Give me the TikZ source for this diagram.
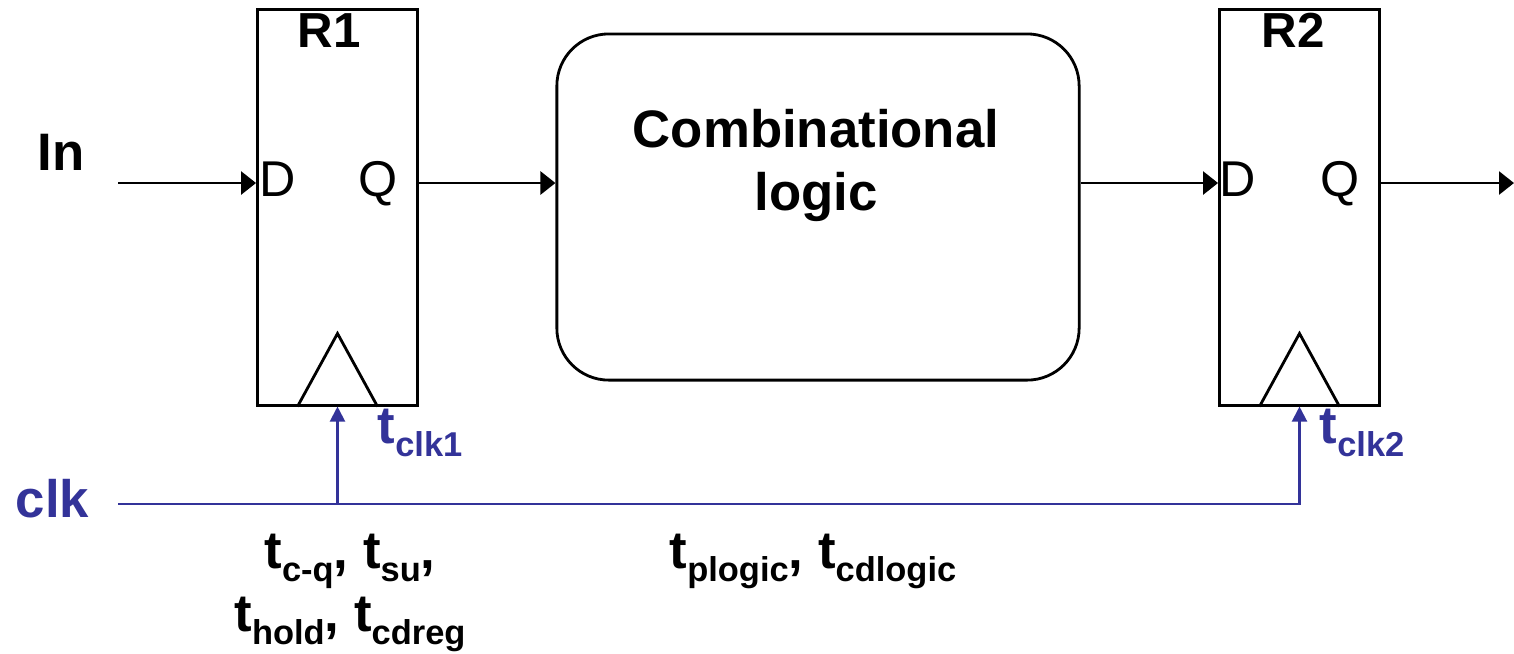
\documentclass[tikz,border=0pt]{standalone}
\usepackage{fontspec}
\setmainfont{Liberation Sans}
\usepackage{xcolor}
\usepackage{tikz}
\usetikzlibrary{arrows.meta, positioning, calc}
\definecolor{clkblue}{RGB}{51,51,153}
% delay symbol: t with a lowered small index
\newcommand{\tdelay}[1]{t\raisebox{-3.7pt}{\fontsize{9.8}{11}\selectfont #1}}
\tikzset{
  reg/.style={rectangle, draw=black, line width=0.8pt,
    minimum width=1.6cm, minimum height=3.95cm, inner sep=0pt},
  combbox/.style={rectangle, draw=black, line width=0.8pt,
    rounded corners=0.52cm, minimum width=5.22cm, minimum height=3.46cm},
  pin/.style={inner sep=0pt, anchor=base, font=\fontsize{14.3}{17}\selectfont},
  regname/.style={inner sep=0pt, anchor=base, font=\fontsize{14}{17}\selectfont\bfseries},
  biglabel/.style={inner sep=0pt, anchor=base, font=\fontsize{15}{18}\selectfont\bfseries},
  clklabel/.style={biglabel, text=clkblue},
  arrow/.style={-{Triangle[length=0.15cm, width=0.23cm]}, line width=0.8pt},
  clkarrow/.style={-{Triangle[length=0.15cm, width=0.15cm]}, line width=0.6pt, draw=clkblue},
  line/.style={line width=0.8pt}
}

\begin{document}
\begin{tikzpicture}[x=0.01cm, y=-0.01cm]
  \useasboundingbox (0,0) rectangle (1514,653);

  % Registers and logic block
  \node[reg] (r1) at (337.5, 207.5) {};
  \node[reg] (r2) at (1299.5, 207.5) {};
  \node[combbox] (comb) at (818, 207) {};

  % Register names and pins
  \node[regname] (r1name) at (329, 47) {R1};
  \node[regname] (r2name) at (1293, 47) {R2};
  \node[pin] (d1) at (277.5, 196) {D};
  \node[pin] (q1) at (378, 196) {Q};
  \node[pin] (d2) at (1237.5, 196) {D};
  \node[pin] (q2) at (1340, 196) {Q};

  \node[biglabel] (combtop) at (816, 147) {Combinational};
  \node[biglabel] (combbot) at (816, 210) {logic};

  % Inputs
  \node[biglabel, anchor=base west] (inlbl) at (37, 170) {In};
  \node[clklabel, anchor=base west] (clklbl) at (15, 517) {clk};

  % Data path
  \coordinate (din) at (118, 183);
  \coordinate (dout) at (1514, 183);
  \draw[arrow] (din) -- (din -| r1.west);
  \draw[arrow] (r1.east |- din) -- (din -| comb.west);
  \draw[arrow] (comb.east |- din) -- (din -| r2.west);
  \draw[arrow] (r2.east |- din) -- (dout);

  % Clock inputs
  \foreach \r in {r1, r2}
    \draw[line] ([xshift=-0.4cm]\r.south) -- ([yshift=0.73cm]\r.south) -- ([xshift=0.4cm]\r.south);

  \coordinate (clkin) at (118, 504);
  \draw[clkarrow] (clkin) -| (r2.south);
  \draw[clkarrow] (clkin -| r1.south) -- (r1.south);

  \node[clklabel, anchor=base west] (tclk1) at (377, 443) {\tdelay{clk1}};
  \node[clklabel, anchor=base west] (tclk2) at (1319, 443) {\tdelay{clk2}};

  % Timing parameters
  \node[biglabel] (regt1) at (350, 568) {\tdelay{c-q}, \tdelay{su},};
  \node[biglabel] (regt2) at (350, 631) {\tdelay{hold}, \tdelay{cdreg}};
  \node[biglabel] (logict) at (813, 568) {\tdelay{plogic}, \tdelay{cdlogic}};
\end{tikzpicture}
\end{document}
